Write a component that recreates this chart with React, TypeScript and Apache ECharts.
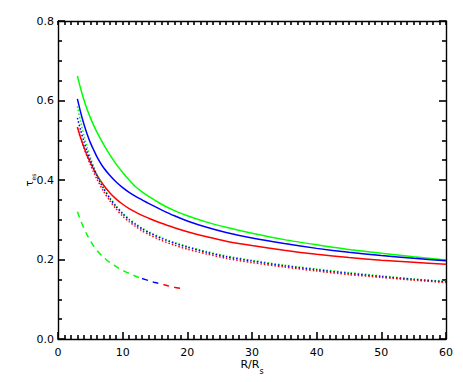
import React, { useEffect, useRef } from "react";
import * as echarts from "echarts";

// Radius grid (R/Rs) for solid and dotted curves
const rGrid = [3, 3.5, 4, 4.5, 5, 5.5, 6, 7, 8, 9, 10, 11, 12, 13, 14, 16, 18, 20, 23, 26, 30, 35, 40, 45, 50, 55, 60];

// Solid curves
const greenSolid = [0.662, 0.63, 0.602, 0.578, 0.557, 0.538, 0.521, 0.491, 0.464, 0.44, 0.419, 0.4, 0.383, 0.37, 0.359, 0.339, 0.323, 0.31, 0.294, 0.281, 0.266, 0.25, 0.237, 0.225, 0.216, 0.207, 0.199];
const blueSolid = [0.604, 0.57, 0.541, 0.516, 0.494, 0.476, 0.459, 0.432, 0.412, 0.395, 0.381, 0.369, 0.359, 0.35, 0.341, 0.325, 0.31, 0.297, 0.281, 0.268, 0.254, 0.24, 0.228, 0.218, 0.21, 0.203, 0.197];
const redSolid = [0.533, 0.506, 0.483, 0.462, 0.444, 0.428, 0.413, 0.388, 0.368, 0.352, 0.339, 0.328, 0.319, 0.311, 0.304, 0.291, 0.28, 0.27, 0.257, 0.246, 0.235, 0.223, 0.213, 0.205, 0.198, 0.193, 0.188];

// Dotted curves
const greenDotted = [0.585, 0.547, 0.513, 0.483, 0.457, 0.434, 0.414, 0.382, 0.356, 0.335, 0.317, 0.302, 0.29, 0.279, 0.27, 0.255, 0.243, 0.233, 0.22, 0.209, 0.198, 0.186, 0.176, 0.167, 0.159, 0.151, 0.145];
const blueDotted = [0.556, 0.525, 0.497, 0.472, 0.45, 0.43, 0.411, 0.38, 0.354, 0.333, 0.315, 0.3, 0.288, 0.277, 0.268, 0.253, 0.241, 0.231, 0.218, 0.207, 0.196, 0.184, 0.174, 0.165, 0.157, 0.15, 0.144];
const redDotted = [0.532, 0.505, 0.481, 0.459, 0.439, 0.42, 0.403, 0.373, 0.348, 0.327, 0.309, 0.295, 0.283, 0.272, 0.263, 0.248, 0.236, 0.226, 0.214, 0.203, 0.192, 0.181, 0.171, 0.162, 0.155, 0.148, 0.142];

// Dashed curve segments
const rDashGreen = [3, 3.5, 4, 4.5, 5, 5.5, 6, 7, 8, 9, 10, 11, 12, 13];
const greenDashed = [0.32, 0.298, 0.279, 0.262, 0.247, 0.234, 0.223, 0.206, 0.193, 0.182, 0.173, 0.165, 0.158, 0.152];
const rDashBlue = [13, 14, 15, 16.3];
const blueDashed = [0.152, 0.147, 0.142, 0.137];
const rDashRed = [16.3, 17, 18, 19];
const redDashed = [0.137, 0.134, 0.13, 0.127];

const xTicks = { min: 0, max: 60, interval: 10 };
const yTicks = { min: 0, max: 0.8, interval: 0.2 };

const GREEN = "#00ff00";
const BLUE = "#0000ff";
const RED = "#ff0000";
const FONT = "DejaVu Sans";

function pairs(xs: number[], ys: number[]) {
  return xs.map((x, i) => [x, ys[i]]);
}

function line(name: string, xs: number[], ys: number[], color: string, type: any) {
  return {
    name,
    type: "line",
    data: pairs(xs, ys),
    showSymbol: false,
    symbol: "none",
    smooth: 0.25,
    xAxisIndex: 0,
    yAxisIndex: 0,
    lineStyle: { color, width: 1.5, type },
    z: 3,
  };
}

// axis that only draws the frame line and inward ticks
function tickAxis(position: string, range: any, split: number, major: number, minor: number) {
  return {
    type: "value",
    position,
    ...range,
    axisLine: { show: true, onZero: false, lineStyle: { color: "#000", width: 1.4 } },
    splitLine: { show: false },
    axisTick: { show: true, inside: true, length: major, lineStyle: { color: "#000", width: 1.6 } },
    minorTick: { show: true, splitNumber: split, length: minor, lineStyle: { color: "#000", width: 1.6 } },
    axisLabel: { show: false },
  };
}

export default function App() {
  const ref = useRef<HTMLDivElement>(null);
  useEffect(() => {
    if (!ref.current) return;
    const chart = echarts.init(ref.current, undefined, { renderer: "svg" });
    chart.setOption({
      animation: false,
      backgroundColor: "#fff",
      grid: { left: 58, right: 17, top: 21, bottom: 43 },
      xAxis: [
        {
          type: "value",
          position: "bottom",
          ...xTicks,
          axisLine: { show: false, onZero: false },
          splitLine: { show: false },
          axisTick: { show: false },
          axisLabel: { color: "#000", fontFamily: FONT, fontSize: 11, margin: 8 },
          name: "{a|R/R}{s|s}",
          nameLocation: "middle",
          nameGap: 20,
          nameMoveOverlap: false,
          nameTextStyle: {
            rich: {
              a: { fontFamily: FONT, fontSize: 11, color: "#000", lineHeight: 16, verticalAlign: "top" },
              s: { fontFamily: FONT, fontSize: 8, color: "#000", lineHeight: 8, verticalAlign: "bottom" },
            },
          },
        },
        tickAxis("bottom", xTicks, 10, 7, 4),
        tickAxis("top", xTicks, 10, 4, 4),
      ],
      yAxis: [
        {
          type: "value",
          position: "left",
          ...yTicks,
          axisLine: { show: false, onZero: false },
          splitLine: { show: false },
          axisTick: { show: false },
          axisLabel: {
            color: "#000",
            fontFamily: FONT,
            fontSize: 11,
            margin: 4,
            formatter: (v: number) => v.toFixed(1),
          },
          name: "{t|τ}{s|es}",
          nameLocation: "middle",
          nameRotate: 90,
          nameGap: 22,
          nameMoveOverlap: false,
          nameTextStyle: {
            rich: {
              t: { fontFamily: FONT, fontSize: 10, color: "#000", lineHeight: 12, verticalAlign: "top" },
              s: { fontFamily: FONT, fontSize: 6, color: "#000", lineHeight: 6, verticalAlign: "bottom" },
            },
          },
        },
        tickAxis("left", yTicks, 4, 7, 4),
        tickAxis("right", yTicks, 4, 7, 4),
      ],
      series: [
        line("green solid", rGrid, greenSolid, GREEN, "solid"),
        line("blue solid", rGrid, blueSolid, BLUE, "solid"),
        line("red solid", rGrid, redSolid, RED, "solid"),
        line("green dotted", rGrid, greenDotted, GREEN, [1.5, 2]),
        line("blue dotted", rGrid, blueDotted, BLUE, [1.5, 2]),
        line("red dotted", rGrid, redDotted, RED, [1.5, 2]),
        line("green dashed", rDashGreen, greenDashed, GREEN, [6, 5]),
        line("blue dashed", rDashBlue, blueDashed, BLUE, [6, 5]),
        line("red dashed", rDashRed, redDashed, RED, [6, 5]),
      ],
    });
    return () => chart.dispose();
  }, []);
  return (
    <div
      ref={ref}
      style={{ position: "fixed", left: 0, top: 0, width: 463, height: 382, background: "#fff" }}
    />
  );
}
